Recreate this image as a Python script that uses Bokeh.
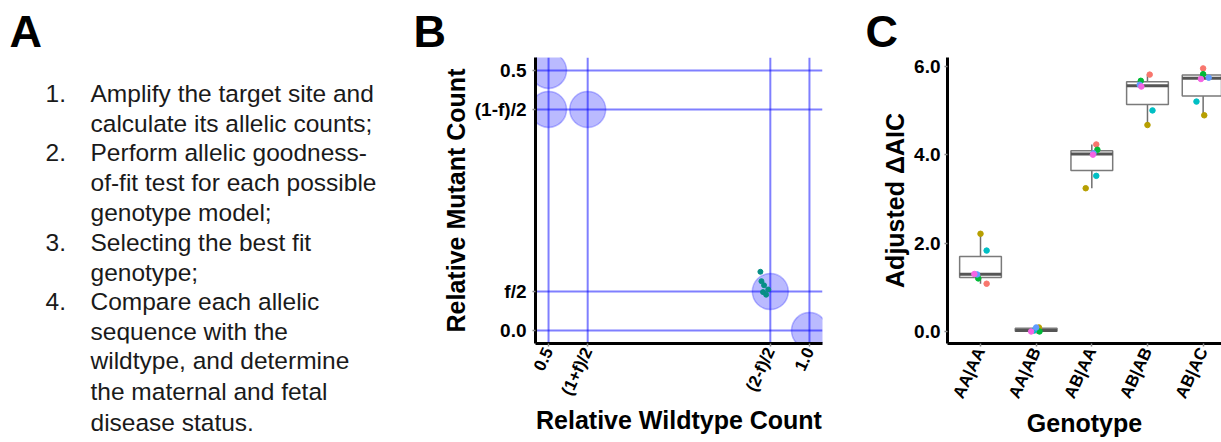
import numpy as np
from bokeh.plotting import figure
from bokeh.layouts import row
from bokeh.models import Range1d, FixedTicker, Span, Title, PrintfTickFormatter
from bokeh.embed import file_html
from bokeh.resources import INLINE
from bokeh.core.properties import value

FONT = "Liberation Sans"

# ---------------- Panel A: text ----------------
step_numbers = ["1.", "", "2.", "", "", "3.", "", "4.", "", "", "", ""]
step_lines = [
    "Amplify the target site and",
    "calculate its allelic counts;",
    "Perform allelic goodness-",
    "of-fit test for each possible",
    "genotype model;",
    "Selecting the best fit",
    "genotype;",
    "Compare each allelic",
    "sequence with the",
    "wildtype, and determine",
    "the maternal and fetal",
    "disease status.",
]

# ---------------- Panel B: allelic count model ----------------
wt_ticks = [0.5, 0.575, 0.925, 1.0]
wt_tick_labels = ["0.5", "(1+f)/2", "(2-f)/2", "1.0"]
mut_ticks = [0.0, 0.075, 0.425, 0.5]
mut_tick_labels = ["0.0", "f/2", "(1-f)/2", "0.5"]
model_wt = [0.5, 0.5, 0.575, 0.925, 1.0]
model_mut = [0.5, 0.425, 0.425, 0.075, 0.0]
obs_wt = [0.906, 0.908, 0.913, 0.921, 0.911, 0.917]
obs_mut = [0.113, 0.095, 0.087, 0.079, 0.074, 0.069]

# ---------------- Panel C: adjusted delta AIC ----------------
genotypes = ["AA|AA", "AA|AB", "AB|AA", "AB|AB", "AB|AC"]
sample_colors = ["#F8766D", "#B79F00", "#00BA38", "#00BFC4", "#619CFF", "#F564E3"]
aic_AA_AA = [1.08, 2.21, 1.20, 1.83, 1.29, 1.30]
aic_AA_AB = [0.02, 0.09, 0.00, 0.02, 0.09, 0.00]
aic_AB_AA = [4.23, 3.24, 4.11, 3.52, 4.03, 4.00]
aic_AB_AB = [5.81, 4.67, 5.67, 5.00, 5.58, 5.54]
aic_AB_AC = [5.95, 4.89, 5.82, 5.20, 5.74, 5.71]
jit_AA_AA = [0.11, 0.00, -0.04, 0.11, -0.06, -0.11]
jit_AA_AB = [0.02, 0.05, 0.06, -0.04, 0.00, -0.09]
jit_AB_AA = [0.08, -0.11, 0.10, 0.08, 0.03, 0.02]
jit_AB_AB = [0.04, 0.00, -0.12, 0.09, -0.14, -0.11]
jit_AB_AC = [0.00, 0.02, 0.00, -0.12, 0.10, -0.04]
aic_values = [aic_AA_AA, aic_AA_AB, aic_AB_AA, aic_AB_AB, aic_AB_AC]
aic_jitter = [jit_AA_AA, jit_AA_AB, jit_AB_AA, jit_AB_AB, jit_AB_AC]

H = 442
TOP = 57      # shared frame top (px)
BOTTOM = 99   # shared bottom border (px)
FRAME_BOTTOM = H - BOTTOM


def style_axis(ax, label_size):
    ax.axis_line_color = "black"
    ax.axis_line_width = 3
    ax.major_tick_line_color = "#8a8a8a"
    ax.major_tick_line_width = 1.5
    ax.major_tick_out = 3
    ax.major_tick_in = 0
    ax.minor_tick_line_color = None
    ax.major_label_text_font = FONT
    ax.major_label_text_font_size = label_size
    ax.major_label_text_font_style = "bold"
    ax.major_label_text_color = "black"
    ax.axis_label_text_font = FONT
    ax.axis_label_text_font_size = "25px"
    ax.axis_label_text_font_style = "bold"
    ax.axis_label_text_color = "black"


def panel_letter(p, letter, offset):
    p.title.text = letter
    p.title.text_font = FONT
    p.title.text_font_size = "45px"
    p.title.text_font_style = "bold"
    p.title.text_color = "black"
    p.title.align = "left"
    p.title.offset = offset
    p.title.standoff = 2


# ================= Panel A =================
pa = figure(width=408, height=H, x_range=Range1d(0, 408), y_range=Range1d(FRAME_BOTTOM, TOP),
            output_backend="svg", toolbar_location=None,
            min_border_left=0, min_border_right=0, min_border_top=TOP, min_border_bottom=BOTTOM,
            x_axis_location=None, y_axis_location=None)
pa.grid.visible = False
pa.outline_line_color = None
panel_letter(pa, "A", 9)
n_in = 9
line_y = [92.7 + 29.8 * i for i in range(n_in)]
pa.text(x=[90] * n_in, y=line_y, text=step_lines[:n_in],
        text_font=value(FONT), text_font_size="24.5px", text_color="#1a1a1a",
        text_baseline="alphabetic", text_align="left")
num_idx = [i for i, n in enumerate(step_numbers) if n]
pa.text(x=[45] * len(num_idx), y=[line_y[i] for i in num_idx], text=[step_numbers[i] for i in num_idx],
        text_font=value(FONT), text_font_size="24.5px", text_color="#1a1a1a",
        text_baseline="alphabetic", text_align="left")
for txt in step_lines[n_in:]:
    pa.add_layout(Title(text=txt, align="left", offset=90, text_font=FONT, text_font_size="24.5px",
                        text_font_style="normal", text_color="#1a1a1a", standoff=2), "below")

# ================= Panel B =================
xrB = (0.475, 1.025)
yrB = (-0.0248, 0.5248)
pb = figure(width=450, height=H, x_range=Range1d(*xrB), y_range=Range1d(*yrB),
            output_backend="svg", toolbar_location=None,
            min_border_left=127, min_border_right=36, min_border_top=TOP, min_border_bottom=BOTTOM)
pb.grid.visible = False
pb.outline_line_color = None
panel_letter(pb, "B", -122)
style_axis(pb.xaxis[0], "17px")
style_axis(pb.yaxis[0], "19px")
pb.xaxis.ticker = FixedTicker(ticks=wt_ticks)
pb.xaxis.major_label_overrides = {t: l for t, l in zip(wt_ticks, wt_tick_labels)}
pb.yaxis.ticker = FixedTicker(ticks=mut_ticks)
pb.yaxis.major_label_overrides = {t: l for t, l in zip(mut_ticks, mut_tick_labels)}
pb.xaxis.major_label_orientation = np.deg2rad(65)
pb.xaxis.major_label_standoff = 2
pb.yaxis.major_label_standoff = 6
pb.xaxis.axis_label = "Relative Wildtype Count"
pb.yaxis.axis_label = "Relative Mutant Count"
pb.xaxis.axis_label_standoff = 1
pb.yaxis.axis_label_standoff = 2

for t in wt_ticks:
    pb.add_layout(Span(location=t, dimension="height", line_color="blue",
                       line_alpha=0.5, line_width=2, level="underlay"))
for t in mut_ticks:
    pb.add_layout(Span(location=t, dimension="width", line_color="blue",
                       line_alpha=0.5, line_width=2, level="underlay"))
pb.scatter(x=model_wt, y=model_mut, size=36, marker="circle", fill_color="blue",
           fill_alpha=0.27, line_color="blue", line_alpha=0.25, line_width=1.5)
pb.scatter(x=obs_wt, y=obs_mut, size=5, marker="circle", color="#088F86")

# ================= Panel C =================
xrC = (0.407, 5.33)
yrC = (-0.272, 6.197)
pc = figure(width=363, height=H, x_range=Range1d(*xrC), y_range=Range1d(*yrC),
            output_backend="svg", toolbar_location=None,
            min_border_left=89, min_border_right=0, min_border_top=TOP, min_border_bottom=BOTTOM)
pc.grid.visible = False
pc.outline_line_color = None
panel_letter(pc, "C", -82)
style_axis(pc.xaxis[0], "17px")
style_axis(pc.yaxis[0], "19px")
positions = [i + 1 for i in range(len(genotypes))]
pc.xaxis.ticker = FixedTicker(ticks=positions)
pc.xaxis.major_label_overrides = {p: g for p, g in zip(positions, genotypes)}
pc.xaxis.major_label_orientation = np.deg2rad(65)
pc.xaxis.major_label_standoff = 2
pc.yaxis.ticker = FixedTicker(ticks=[0, 2, 4, 6])
pc.yaxis.formatter = PrintfTickFormatter(format="%.1f")
pc.yaxis.major_label_standoff = 4
pc.xaxis.axis_label = "Genotype"
pc.yaxis.axis_label = "Adjusted \u0394AIC"
pc.xaxis.axis_label_standoff = 1
pc.yaxis.axis_label_standoff = 2

q1s, meds, q3s, los, his = [], [], [], [], []
for vals in aic_values:
    v = np.array(vals)
    q1, med, q3 = np.percentile(v, [25, 50, 75])
    iqr = q3 - q1
    q1s.append(q1); meds.append(med); q3s.append(q3)
    his.append(v[v <= q3 + 1.5 * iqr].max())
    los.append(v[v >= q1 - 1.5 * iqr].min())

box_w = 0.75
pc.segment(x0=positions, x1=positions, y0=q3s, y1=his, line_color="#6f6f6f", line_width=1.5)
pc.segment(x0=positions, x1=positions, y0=q1s, y1=los, line_color="#6f6f6f", line_width=1.5)
pc.vbar(x=positions, width=box_w, top=q3s, bottom=q1s, fill_color="white",
        line_color="#7a7a7a", line_width=1.5)
pc.segment(x0=[p - box_w / 2 for p in positions], x1=[p + box_w / 2 for p in positions],
           y0=meds, y1=meds, line_color="#555555", line_width=3)

px, py, pcol = [], [], []
for p, vals, jit in zip(positions, aic_values, aic_jitter):
    for v, j, c in zip(vals, jit, sample_colors):
        px.append(p + j); py.append(v); pcol.append(c)
pc.scatter(x=px, y=py, color=pcol, size=5.5, marker="circle")

layout = row(pa, pb, pc)
open("out.html", "w").write(file_html(layout, INLINE, title="Genotyping figure"))
